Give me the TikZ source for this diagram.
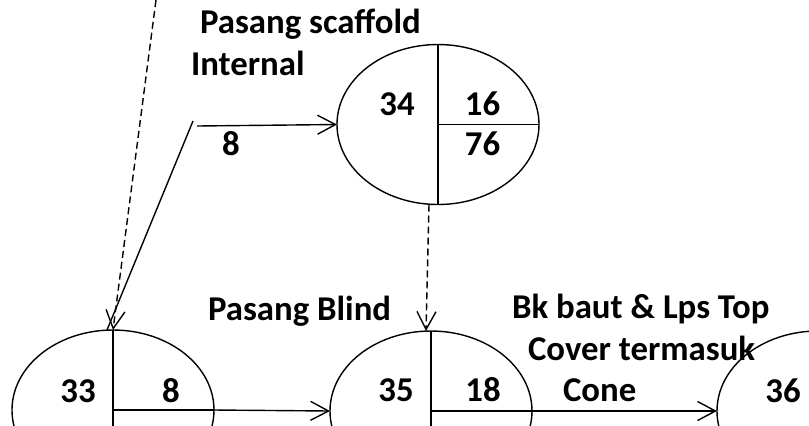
\documentclass[tikz,border=0pt]{standalone}
\usepackage{fontspec}
\setmainfont{Carlito}
\usetikzlibrary{shapes.geometric,arrows.meta}

\begin{document}
\begin{tikzpicture}[x=0.5pt,y=-0.5pt,line width=0.7pt,
  every node/.style={font=\fontsize{17.4}{21}\selectfont\bfseries, inner sep=0pt, outer sep=0pt},
  evt/.style={draw, ellipse, minimum width=101pt, minimum height=80pt},
  num/.style={anchor=base},
  lbl/.style={anchor=base west},
  arr/.style={-{Straight Barb[length=9pt,width=9.5pt]}},
  dsh/.style={dash pattern=on 3.5pt off 2pt}]
\useasboundingbox (0,0) rectangle (809,425);
\clip (0,0) rectangle (809,425);

\node[evt] (n33) at (113,410) {};
\node[evt] (n34) at (438,124.5) {};
\node[evt] (n35) at (431,411) {};
\node[evt] (n36) at (818,411) {};

\draw (n33.north) -- (n33.south);
\draw (n33.center) -- (n33.east);
\draw (n34.north) -- (n34.south);
\draw (n34.center) -- (n34.east);
\draw (n35.north) -- (n35.south);
\draw (n35.center) -- (n35.east);

\node[num] (t33) at (78,402) {33};
\node[num] (e33) at (171,402) {8};
\node[num] (t34) at (397,115) {34};
\node[num] (e34) at (482.5,115) {16};
\node[num] (l34) at (482.5,155) {76};
\node[num] (t35) at (396,401) {35};
\node[num] (e35) at (483,401) {18};
\node[num] (t36) at (783,402) {36};

\node[lbl] (a1) at (200,33) {Pasang scaffold};
\node[lbl] (a2) at (191,75) {Internal};
\node[num] (d1) at (231,155) {8};
\node[lbl] (b1) at (208,320) {Pasang Blind};
\node[lbl] (c1) at (512,318) {Bk baut \& Lps Top};
\node[lbl] (c2) at (528,360) {Cover termasuk};
\node[lbl] (c3) at (563,401) {Cone};

\coordinate (top) at (156,0);
\coordinate (k1) at (193,121);
\coordinate (k2) at (197,126);

\draw[dsh,arr] (top) -- (n33.north);
\draw ([xshift=-3pt]n33.north) -- (k1);
\draw[arr] (k2) -- (n34.west);
\draw[dsh,arr] ([xshift=-4.5pt]n34.south) -- ([xshift=-2.5pt]n35.north);
\draw[arr] (n33.east) -- (n35.west);
\draw[arr] (n35.east) -- (n36.west);
\end{tikzpicture}
\end{document}
